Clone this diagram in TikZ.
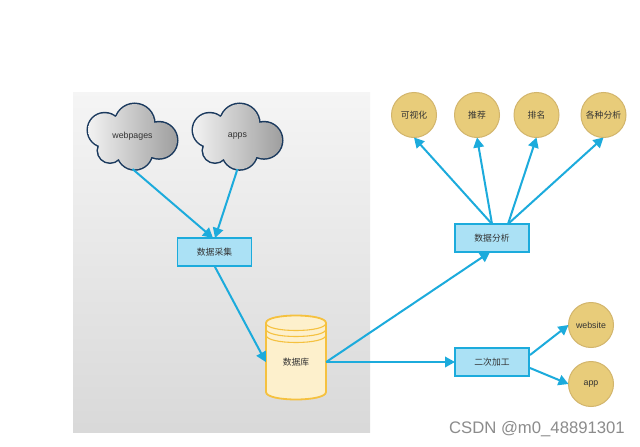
\documentclass[tikz,border=0pt]{standalone}
\usepackage{fontspec}
\setmainfont{Liberation Sans}
\newfontfamily\cjk{Noto Sans CJK SC}
\usetikzlibrary{arrows.meta}
\definecolor{flow}{HTML}{1CABDC}
\definecolor{boxfill}{HTML}{ABE1F5}
\definecolor{goldfill}{HTML}{E8CC7A}
\definecolor{goldline}{HTML}{D2B56C}
\definecolor{dbfill}{HTML}{FDF0CC}
\definecolor{dbline}{HTML}{F5C13F}
\definecolor{cloudline}{HTML}{1B3A5E}
\definecolor{txt}{HTML}{333333}
\tikzset{
  x=1pt,y=-1pt,
  flowarrow/.style={draw=flow,line width=2pt,-{Triangle[length=10pt,width=10.5pt]}},
  procbox/.style={draw=flow,fill=boxfill,line width=1.9pt,minimum width=74pt,minimum height=28pt,inner sep=0pt,outer sep=0pt,text=txt,font=\cjk\fontsize{8.8pt}{10pt}\selectfont},
  goldcircle/.style={circle,draw=goldline,fill=goldfill,line width=1pt,minimum size=45pt,inner sep=0pt,outer sep=0pt,text=txt,font=\cjk\fontsize{8.8pt}{10pt}\selectfont},
  cloudbox/.style={minimum width=89pt,minimum height=65pt,inner sep=0pt,outer sep=0pt,text=txt,font=\fontsize{8.8pt}{10pt}\selectfont},
}
\newcommand{\lobes}{%
  (46.7,19.5) circle[radius=19.5]
  (16.7,26) circle[radius=16.7]
  (71,36.3) circle[radius=18]
  (46.7,48) circle[radius=17.3]
  (22,46.5) circle[radius=12]
  (42,32) circle[radius=24]}
\newcommand{\cloudpath}[2]{%
  \begin{scope}[shift={(#1,#2)}]
    \draw[cloudline,line width=3pt] \lobes;
    \path[left color=black!5,right color=black!38] \lobes;
  \end{scope}}
\begin{document}
\begin{tikzpicture}
\useasboundingbox (0,0) rectangle (640,447);
\fill[white] (0,0) rectangle (640,447);
\path[top color=black!4,bottom color=black!15] (73,92) rectangle (370,432);
\cloudpath{88}{104}
\cloudpath{193}{104}
\node[cloudbox] (wp) at (132.5,136.5) {webpages};
\node[cloudbox] (ap) at (237.5,136.5) {apps};
\node[procbox] (collect) at (214.5,252) {数据采集};
\node[procbox] (analysis) at (492,238) {数据分析};
\node[procbox] (second) at (492,362) {二次加工};
\node[goldcircle] (c1) at (414,115) {可视化};
\node[goldcircle] (c2) at (477,115) {推荐};
\node[goldcircle] (c3) at (536.5,115) {排名};
\node[goldcircle] (c4) at (603.5,115) {各种分析};
\node[goldcircle,font=\fontsize{8.8pt}{10pt}\selectfont] (web) at (591,325) {website};
\node[goldcircle,font=\fontsize{8.8pt}{10pt}\selectfont] (app) at (591,384) {app};
% database
\path[fill=dbfill,draw=dbline,line width=1.8pt]
  (266,323) .. controls (266,313) and (326,313) .. (326,323)
  -- (326,392) .. controls (326,402) and (266,402) .. (266,392) -- cycle;
\draw[dbline,line width=1.1pt] (266,323) .. controls (266,333) and (326,333) .. (326,323);
\draw[dbline,line width=1.1pt] (266,329) .. controls (266,339) and (326,339) .. (326,329);
\draw[dbline,line width=1.1pt] (266,335) .. controls (266,345) and (326,345) .. (326,335);
\node[inner sep=0pt,minimum width=60pt,minimum height=83pt,text=txt,font=\cjk\fontsize{8.8pt}{10pt}\selectfont] (db) at (296,362) {数据库};
% connectors
\draw[flowarrow] (wp.south) -- ([xshift=-1.5pt]collect.north);
\draw[flowarrow] (ap.south) -- ([xshift=0.5pt]collect.north);
\draw[flowarrow] (collect.south) -- (db.west);
\draw[flowarrow] (db.east) -- ([xshift=-2pt]analysis.south);
\draw[flowarrow] (db.east) -- (second.west);
\draw[flowarrow] (analysis.north) -- (c1.south);
\draw[flowarrow] (analysis.north) -- (c2.south);
\draw[flowarrow] ([xshift=16pt]analysis.north) -- (c3.south);
\draw[flowarrow] ([xshift=16pt]analysis.north) -- (c4.south);
\draw[flowarrow] ([xshift=1pt,yshift=-7pt]second.north east) -- (web.west);
\draw[flowarrow] ([xshift=1pt,yshift=8pt]second.south east) -- (app.west);
\node[font=\fontsize{16.7pt}{18pt}\selectfont,text=black!45,anchor=east,inner sep=0pt] (mark) at (625,429) {CSDN @m0\_48891301};
\end{tikzpicture}
\end{document}
